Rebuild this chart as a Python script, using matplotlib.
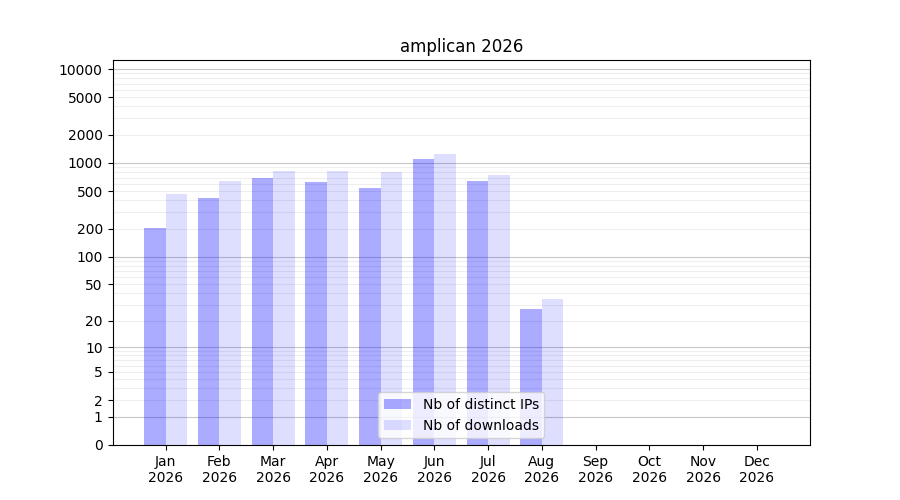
import matplotlib
matplotlib.use("Agg")
import matplotlib.pyplot as plt
import numpy as np

months = ["Jan", "Feb", "Mar", "Apr", "May", "Jun", "Jul", "Aug", "Sep", "Oct", "Nov", "Dec"]
year = "2026"
distinct_ips = [201, 424, 692, 628, 541, 1103, 643, 27, 0, 0, 0, 0]
downloads = [467, 643, 822, 822, 801, 1246, 745, 35, 0, 0, 0, 0]
yticks = [0, 1, 2, 5, 10, 20, 50, 100, 200, 500, 1000, 2000, 5000, 10000]


def fwd(v):
    return np.log10(1 + np.maximum(v, 0))


def inv(v):
    return 10 ** v - 1


x = np.arange(len(months))
fig, ax = plt.subplots(figsize=(9, 5), dpi=100)
ax.set_yscale("function", functions=(fwd, inv))

minor = [k * 10 ** n for n in range(0, 5) for k in range(2, 10)]
for m in minor:
    ax.axhline(m, color="#eeeeee", lw=0.8, zorder=0)
for m in [1, 10, 100, 1000, 10000]:
    ax.axhline(m, color="#c8c8c8", lw=0.8, zorder=0)

ax.bar(x - 0.2, distinct_ips, width=0.4, color="blue", alpha=0.33, label="Nb of distinct IPs", zorder=2)
ax.bar(x + 0.2, downloads, width=0.4, color="blue", alpha=0.13, label="Nb of downloads", zorder=2)

ax.set_yticks(yticks)
ax.set_yticklabels([str(t) for t in yticks])
ax.yaxis.set_minor_locator(matplotlib.ticker.NullLocator())
ax.set_ylim(0, 12470)
ax.set_xticks(x)
ax.set_xticklabels([f"{m}\n{year}" for m in months])
ax.set_title("amplican 2026")
ax.legend(loc="lower center")

fig.savefig("out.png")
